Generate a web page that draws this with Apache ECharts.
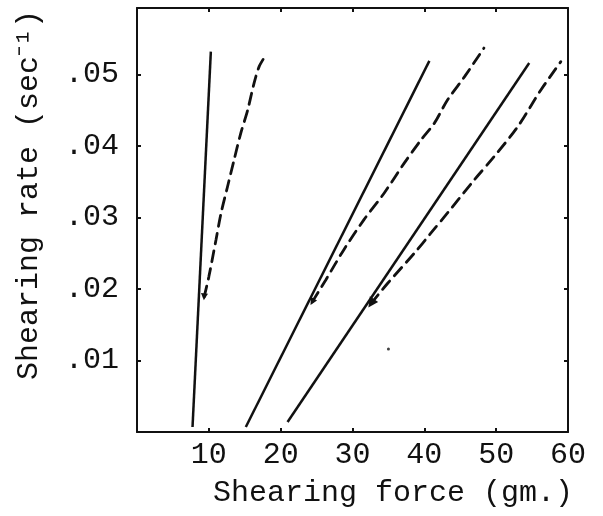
<!DOCTYPE html>
<html><head><meta charset="utf-8">
<script src="https://cdn.jsdelivr.net/npm/echarts@6/dist/echarts.min.js"></script>
<style>html,body{margin:0;padding:0;background:#fff}#c{width:603px;height:516px}</style>
</head><body><div id="c"></div>
<script>
// Tick labels
const xTicks = [10, 20, 30, 40, 50, 60];
const yTicks = [0.01, 0.02, 0.03, 0.04, 0.05];
const xTitle = 'Shearing force (gm.)';
const yTitle = 'Shearing rate (sec\u207B\u00B9)';

// Series (x = shearing force gm, y = shearing rate sec^-1)
const solid1 = [[7.73, 0.0007], [10.28, 0.0532]];
const dashed1 = [[9.35, 0.0189], [10.0, 0.0217], [11.0, 0.0269], [11.7, 0.0306], [12.6, 0.0343], [13.5, 0.038], [14.45, 0.0418], [15.4, 0.045], [16.3, 0.0488], [17.0, 0.0511], [17.8, 0.0525]];
const solid2 = [[15.15, 0.0007], [40.7, 0.0519]];
const dashed2 = [[24.4, 0.0182], [26.3, 0.0213], [28.8, 0.0255], [31.6, 0.0297], [34.4, 0.0334], [37.2, 0.0376], [39.5, 0.0408], [41.4, 0.0432], [43.2, 0.0464], [45.6, 0.0497], [48.3, 0.0537]];
const solid3 = [[20.96, 0.0014], [54.6, 0.0516]];
const dashed3 = [[32.6, 0.018], [34.9, 0.0208], [38.6, 0.025], [40.9, 0.0278], [43.2, 0.0306], [46.9, 0.0352], [49.7, 0.0385], [53.0, 0.0427], [56.2, 0.0478], [59.0, 0.0518]];
const strayDot = [[35.0, 0.0116]];

const FONT = 'Liberation Mono';
const INK = '#111';

function solid(data) {
  return { type: 'line', data: data, showSymbol: false, symbol: 'none', silent: true,
    lineStyle: { color: INK, width: 2.5, type: 'solid' } };
}
function dashed(data, rot, size) {
  const d = data.map((p, i) => i === 0
    ? { value: p, symbol: 'triangle', symbolSize: size, symbolRotate: rot, itemStyle: { color: INK } }
    : { value: p, symbol: 'none' });
  return { type: 'line', data: d, silent: true, showSymbol: true, symbol: 'none', smooth: 0.3,
    lineStyle: { color: INK, width: 2.8, type: [11, 7], cap: 'round' } };
}

const axisLine = { show: true, onZero: false, lineStyle: { color: INK, width: 2 } };
const tick = (vals) => ({ show: true, inside: true, length: 4, lineStyle: { color: INK, width: 2 }, customValues: vals });

const chart = echarts.init(document.getElementById('c'), null, { renderer: 'canvas' });
chart.setOption({
  animation: false,
  backgroundColor: '#fff',
  grid: { left: 137, right: 35, top: 8, bottom: 84, containLabel: false },
  xAxis: [
    { type: 'value', min: 0, max: 60, interval: 10, position: 'bottom',
      axisLine: axisLine, splitLine: { show: false }, axisTick: tick(xTicks),
      axisLabel: { customValues: xTicks, color: INK, fontFamily: FONT, fontSize: 30, margin: 8 } },
    { type: 'value', min: 0, max: 60, interval: 10, position: 'top',
      axisLine: axisLine, splitLine: { show: false }, axisTick: tick(xTicks),
      axisLabel: { show: false } }
  ],
  yAxis: [
    { type: 'value', min: 0, max: 0.0593, position: 'left',
      axisLine: axisLine, splitLine: { show: false }, axisTick: tick(yTicks),
      axisLabel: { customValues: yTicks, color: INK, fontFamily: FONT, fontSize: 30, margin: 18,
        formatter: v => '.' + (Math.round(v * 100)).toString().padStart(2, '0') } },
    { type: 'value', min: 0, max: 0.0593, position: 'right',
      axisLine: axisLine, splitLine: { show: false }, axisTick: tick(yTicks),
      axisLabel: { show: false } }
  ],
  graphic: [
    { type: 'text', left: 213, top: 478, silent: true,
      style: { text: xTitle, font: '30px "' + FONT + '"', fill: INK } },
    { type: 'text', x: 14, y: 380, rotation: Math.PI / 2, silent: true,
      style: { text: yTitle, font: '30px "' + FONT + '"', fill: INK, textAlign: 'left', textVerticalAlign: 'top' } }
  ],
  series: [
    solid(solid1), dashed(dashed1, 175, 7),
    solid(solid2), dashed(dashed2, 150, 7),
    solid(solid3), dashed(dashed3, 146, 10),
    { type: 'scatter', data: strayDot, symbolSize: 3, silent: true, itemStyle: { color: INK } }
  ]
});
</script></body></html>
